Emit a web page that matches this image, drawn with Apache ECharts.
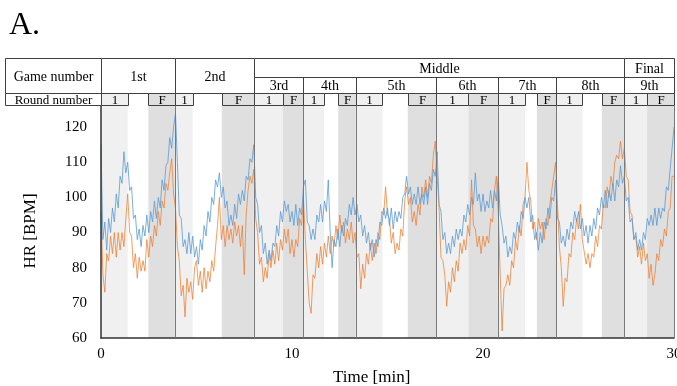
<!DOCTYPE html>
<html>
<head>
<meta charset="utf-8">
<script src="https://cdn.jsdelivr.net/npm/echarts@6/dist/echarts.min.js"></script>
<style>html,body{margin:0;padding:0;background:#fff}#c{width:677px;height:386px}</style>
</head>
<body>
<div id="c"></div>
<script>
// ---- DATA ----
const xTicks = [0, 10, 20, 30];
const yTicks = [60, 70, 80, 90, 100, 110, 120];
const gameNames = ['1st', '2nd', '3rd', '4th', '5th', '6th', '7th', '8th', '9th'];
const gameBounds = [0, 3.87, 8.0, 10.6, 13.34, 17.54, 20.78, 23.84, 27.38, 30];
const groupNames = ['Middle', 'Final'];
const groupGames = [[2, 7], [8, 8]];
const round1 = [[0, 1.40], [3.87, 4.80], [8.0, 9.52], [10.6, 11.68], [13.34, 14.73], [17.54, 19.23], [20.78, 22.2], [23.84, 25.2], [27.38, 28.59]];
const roundF = [[2.48, 3.87], [6.32, 8.0], [9.52, 10.6], [12.42, 13.34], [16.06, 17.54], [19.23, 20.78], [22.82, 23.84], [26.22, 27.38], [28.59, 30]];
const rowLabels = ['Game number', 'Round number'];

// HR samples every 0.1 min (0..30 min)
const blueHR = [
115, 88, 93, 85, 94, 90, 97, 93, 101, 97,
106, 104, 113, 107, 110, 102, 103, 94, 95, 88,
91, 86, 92, 89, 95, 90, 96, 93, 99, 94,
100, 97, 105, 102, 109, 110, 117, 114, 120, 124,
110, 95, 94, 86, 88, 84, 90, 84, 89, 83,
86, 81, 88, 85, 92, 89, 96, 93, 100, 98,
105, 103, 107, 100, 103, 97, 99, 92, 95, 92,
98, 94, 101, 98, 102, 99, 106, 105, 111, 110,
115, 100, 98, 90, 92, 84, 87, 81, 85, 82,
87, 86, 92, 89, 96, 93, 99, 96, 98, 93,
96, 92, 98, 92, 97, 95, 103, 105, 93, 92,
88, 91, 88, 95, 93, 98, 93, 99, 96, 105,
90, 80, 88, 86, 91, 86, 92, 89, 94, 92,
98, 95, 100, 95, 98, 93, 95, 89, 92, 87,
90, 85, 88, 83, 88, 86, 93, 92, 97, 94,
97, 92, 97, 91, 96, 93, 96, 94, 100, 101,
106, 101, 103, 98, 101, 98, 103, 98, 101, 98,
103, 98, 104, 102, 108, 106, 113, 98, 96, 88,
90, 84, 87, 84, 89, 86, 91, 88, 91, 89,
95, 93, 98, 95, 100, 98, 107, 99, 101, 96,
101, 96, 99, 97, 102, 97, 102, 99, 106, 95,
92, 87, 89, 83, 86, 84, 90, 88, 93, 90,
96, 94, 100, 97, 100, 93, 95, 88, 90, 85,
90, 87, 93, 91, 97, 94, 100, 99, 105, 94,
93, 87, 89, 86, 91, 88, 93, 91, 96, 93,
96, 91, 94, 89, 92, 87, 92, 89, 94, 91,
97, 95, 100, 97, 102, 97, 102, 99, 104, 99,
105, 103, 109, 104, 106, 99, 100, 93, 94, 88,
90, 85, 88, 85, 90, 88, 94, 92, 95, 92,
97, 92, 97, 94, 97, 96, 103, 102, 108, 108,
120];
const orangeHR = [
96, 78, 73, 84, 82, 89, 84, 90, 83, 90,
85, 90, 86, 94, 101, 90, 89, 80, 84, 77,
83, 79, 82, 79, 88, 83, 89, 86, 92, 89,
96, 92, 99, 97, 104, 102, 107, 111, 101, 97,
86, 82, 72, 75, 66, 77, 73, 76, 71, 80,
82, 75, 79, 73, 80, 74, 79, 76, 82, 79,
86, 92, 100, 88, 92, 86, 92, 88, 91, 87,
93, 89, 92, 86, 92, 78, 95, 102, 106, 104,
108, 94, 90, 81, 83, 76, 80, 77, 84, 80,
85, 81, 87, 82, 88, 85, 91, 87, 91, 84,
88, 83, 88, 86, 94, 92, 100, 88, 79, 70,
67, 78, 77, 84, 80, 86, 81, 87, 83, 89,
84, 89, 86, 92, 88, 95, 90, 93, 87, 91,
88, 93, 87, 90, 83, 84, 74, 81, 77, 84,
81, 87, 82, 87, 84, 90, 88, 96, 95, 103,
95, 94, 87, 90, 84, 87, 85, 91, 89, 99,
103, 98, 100, 93, 96, 92, 98, 95, 103, 100,
105, 100, 106, 104, 112, 116, 106, 97, 83, 82,
78, 69, 76, 73, 80, 76, 82, 79, 87, 84,
88, 85, 92, 89, 105, 92, 91, 86, 89, 84,
89, 86, 89, 87, 94, 93, 102, 106, 96, 78,
62, 74, 75, 78, 75, 82, 80, 88, 85, 92,
89, 98, 100, 110, 102, 99, 91, 93, 88, 94,
91, 93, 88, 94, 92, 98, 98, 106, 110, 98,
86, 80, 69, 77, 76, 84, 83, 90, 88, 94,
91, 98, 88, 88, 81, 84, 80, 84, 83, 89,
86, 92, 91, 98, 97, 103, 100, 106, 103, 110,
112, 111, 116, 111, 114, 106, 105, 96, 95, 88,
89, 83, 86, 81, 87, 82, 84, 77, 81, 75,
78, 84, 82, 88, 86, 91, 89, 96, 97, 106,
106];
const sampleStep = 0.1;

// ---- BUILD ----
const FONT = 'Liberation Serif';
const LIGHT = '#f0f0f0', DARK = '#dfdfdf', BORDER = '#404040';
const times = blueHR.map((_, i) => +(i * sampleStep).toFixed(1));
const bluePts = blueHR.map((v, i) => [times[i], v]);
const orangePts = orangeHR.map((v, i) => [times[i], v]);

const LABEL_X0 = -5.03;
const headerCells = [];
headerCells.push({x0: LABEL_X0, x1: 0, y0: 0, y1: 35, text: rowLabels[0], fill: '#fff', size: 14});
headerCells.push({x0: LABEL_X0, x1: 0, y0: 35, y1: 47, text: rowLabels[1], fill: '#fff', size: 13});
gameNames.forEach((g, i) => {
  const inGroup = groupGames.some(r => i >= r[0] && i <= r[1]);
  headerCells.push({x0: gameBounds[i], x1: gameBounds[i + 1], y0: inGroup ? 19 : 0, y1: 35, text: g, fill: '#fff', size: 14});
});
groupNames.forEach((n, k) => {
  headerCells.push({x0: gameBounds[groupGames[k][0]], x1: gameBounds[groupGames[k][1] + 1], y0: 0, y1: 19, text: n, fill: '#fff', size: 14});
});
round1.forEach(r => headerCells.push({x0: r[0], x1: r[1], y0: 35, y1: 47, text: '1', fill: LIGHT, size: 13}));
roundF.forEach(r => headerCells.push({x0: r[0], x1: r[1], y0: 35, y1: 47, text: 'F', fill: DARK, size: 13}));

const bandData = [];
round1.forEach(r => bandData.push([{xAxis: r[0], itemStyle: {color: LIGHT}}, {xAxis: r[1]}]));
roundF.forEach(r => bandData.push([{xAxis: r[0], itemStyle: {color: DARK}}, {xAxis: r[1]}]));
const boundaryLines = gameBounds.slice(1).map(b => ({xAxis: b}));

const chart = echarts.init(document.getElementById('c'), null, {renderer: 'canvas'});
const px = v => Math.round(v) + 0.5;
chart.setOption({
  animation: false,
  backgroundColor: '#fff',
  textStyle: {fontFamily: FONT},
  grid: [
    {left: 101, right: 3, top: 106, bottom: 48, containLabel: false, outerBoundsMode: 'none'},
    {left: 101, right: 3, top: 58, height: 47, containLabel: false, outerBoundsMode: 'none'}
  ],
  xAxis: [
    {type: 'value', gridIndex: 0, min: 0, max: 30, interval: 10, z: 4,
     axisLine: {show: true, lineStyle: {color: '#333', width: 1.5}},
     axisTick: {show: false}, splitLine: {show: false},
     axisLabel: {color: '#000', fontFamily: FONT, fontSize: 15, margin: 9, hideOverlap: false,
       formatter: v => xTicks.includes(v) ? String(v) : ''}},
    {type: 'value', gridIndex: 1, min: 0, max: 30, show: false}
  ],
  yAxis: [
    {type: 'value', gridIndex: 0, min: 60, max: 126, interval: 10, z: 4,
     axisLine: {show: true, lineStyle: {color: '#333', width: 1.5}},
     axisTick: {show: false}, splitLine: {show: false},
     axisLabel: {color: '#000', fontFamily: FONT, fontSize: 15, margin: 14,
       formatter: v => yTicks.includes(v) ? String(v) : ''}},
    {type: 'value', gridIndex: 1, min: 0, max: 47, inverse: true, show: false}
  ],
  graphic: [
    {type: 'text', left: 9, top: 10, style: {text: 'A.', font: '32px "Liberation Serif"', fill: '#000'}},
    {type: 'text', x: 31, y: 231, rotation: Math.PI / 2,
     style: {text: 'HR [BPM]', font: '17px "Liberation Serif"', fill: '#000', align: 'center', verticalAlign: 'middle'}},
    {type: 'text', x: 333, y: 378,
     style: {text: 'Time [min]', font: '17px "Liberation Serif"', fill: '#000', align: 'left', verticalAlign: 'middle'}}
  ],
  series: [
    {type: 'line', xAxisIndex: 0, yAxisIndex: 0, data: [], z: -1, silent: true,
     markArea: {silent: true, data: bandData},
     markLine: {silent: true, symbol: 'none', label: {show: false},
       lineStyle: {color: '#7a7a7a', width: 1, type: 'solid'}, data: boundaryLines}},
    {type: 'line', name: 'orange', xAxisIndex: 0, yAxisIndex: 0, data: orangePts, z: 2,
     showSymbol: false, sampling: null,
     lineStyle: {color: '#ed7d31', width: 1, opacity: 0.75}, itemStyle: {color: '#ed7d31'}},
    {type: 'line', name: 'blue', xAxisIndex: 0, yAxisIndex: 0, data: bluePts, z: 3,
     showSymbol: false, sampling: null,
     lineStyle: {color: '#5b9bd5', width: 1, opacity: 0.8}, itemStyle: {color: '#5b9bd5'}},
    {type: 'custom', xAxisIndex: 1, yAxisIndex: 1, clip: false, silent: true, z: 5,
     data: headerCells.map(c => [c.x0, c.x1, c.y0, c.y1]),
     renderItem: function (params, api) {
       const c = headerCells[params.dataIndex];
       const p0 = api.coord([api.value(0), api.value(2)]);
       const p1 = api.coord([api.value(1), api.value(3)]);
       const x0 = px(p0[0]), y0 = px(p0[1]), x1 = px(p1[0]), y1 = px(p1[1]);
       return {type: 'group', children: [
         {type: 'rect', shape: {x: x0, y: y0, width: x1 - x0, height: y1 - y0},
          style: {fill: c.fill, stroke: BORDER, lineWidth: 1}},
         {type: 'text', x: (x0 + x1) / 2, y: (y0 + y1) / 2 + 1,
          style: {text: c.text, font: c.size + 'px "Liberation Serif"', fill: '#000', align: 'center', verticalAlign: 'middle'}}
       ]};
     }}
  ]
});
</script>
</body>
</html>
